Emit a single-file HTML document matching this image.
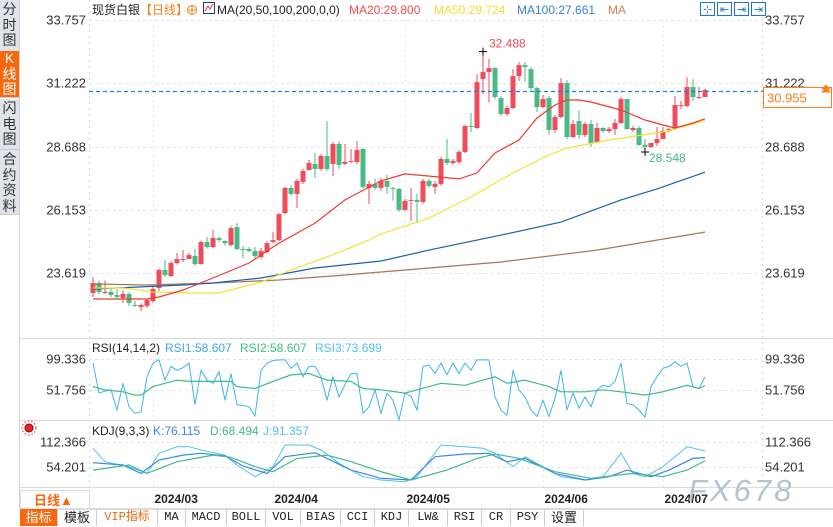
<!DOCTYPE html>
<html><head><meta charset="utf-8">
<style>
body{margin:0;width:833px;height:526px;overflow:hidden;background:#fff;font-family:"Liberation Sans","Noto Sans CJK SC",sans-serif;position:relative}
.side{position:absolute;left:0;width:19px;background:#e1e3ec;color:#333;font-size:14px;line-height:15.5px;text-align:center;border-bottom:1px solid #c8cad4}
.tab{position:absolute;top:509px;height:17px;font-size:12px;line-height:17px;text-align:center;border-right:1px solid #ccc;font-family:"Liberation Mono","Noto Sans CJK SC",monospace;color:#222}
</style></head><body>
<div class="side" style="top:0;height:49px;padding-top:2px">分<br>时<br>图</div>
<div class="side" style="top:51px;height:46px;background:#f7680f;color:#fff">K<br>线<br>图</div>
<div class="side" style="top:99px;height:48px;padding-top:2px">闪<br>电<br>图</div>
<div class="side" style="top:150px;height:62px;padding-top:2px">合<br>约<br>资<br>料</div>
<div style="position:absolute;left:19px;top:0;width:1px;height:509px;background:#d0d2da"></div>
<svg id="chart" width="833" height="526" style="position:absolute;left:0;top:0"></svg>
<div style="position:absolute;left:20px;top:509px;width:813px;height:17px;background:#fff;border-top:1px solid #ddd"></div>
<div class="tab" style="left:20px;width:37px;background:#f7680f;color:#fff;font-family:'Liberation Sans','Noto Sans CJK SC',sans-serif;font-size:13px">指标</div>
<div class="tab" style="left:58px;width:38px;font-family:'Liberation Sans','Noto Sans CJK SC',sans-serif;font-size:13px">模板</div>
<div class="tab" style="left:97px;width:60px;color:#f7680f">VIP指标</div>
<div class="tab" style="left:158px;width:27px">MA</div>
<div class="tab" style="left:186px;width:40px">MACD</div>
<div class="tab" style="left:227px;width:38px">BOLL</div>
<div class="tab" style="left:266px;width:34px">VOL</div>
<div class="tab" style="left:301px;width:39px">BIAS</div>
<div class="tab" style="left:341px;width:33px">CCI</div>
<div class="tab" style="left:375px;width:33px">KDJ</div>
<div class="tab" style="left:409px;width:38px">LW&amp;</div>
<div class="tab" style="left:448px;width:33px">RSI</div>
<div class="tab" style="left:482px;width:28px">CR</div>
<div class="tab" style="left:511px;width:33px">PSY</div>
<div class="tab" style="left:545px;width:38px;font-family:'Liberation Sans','Noto Sans CJK SC',sans-serif;font-size:13px">设置</div>
<script>
const opens=[22.82,23.22,22.82,22.86,22.74,22.62,22.78,22.34,22.26,22.30,22.50,23.02,23.74,23.50,24.02,24.14,24.18,24.30,23.98,24.86,24.66,25.02,24.90,24.74,25.46,24.58,24.58,24.50,24.26,24.46,24.86,24.94,26.02,27.03,26.79,27.27,27.75,27.99,27.79,28.31,27.99,28.79,27.99,28.07,28.07,28.59,27.03,27.19,27.03,27.31,27.03,26.99,26.15,26.53,26.55,26.47,27.31,27.07,27.19,28.19,28.03,28.07,28.47,29.51,29.43,31.39,31.67,31.83,30.63,29.99,30.23,31.51,31.95,31.79,31.03,30.27,30.63,29.35,29.87,31.23,29.07,29.71,29.15,29.59,28.87,29.43,29.31,29.39,29.63,30.59,29.35,29.43,28.75,28.67,28.83,28.99,29.31,29.39,30.31,30.31,31.07,30.63,30.67];
const closes=[23.22,22.86,22.86,22.74,22.66,22.78,22.42,22.32,22.34,22.54,22.98,23.74,23.54,24.02,24.18,24.18,24.34,23.98,24.86,24.66,25.02,24.94,24.82,25.42,24.58,24.54,24.50,24.30,24.50,24.82,24.94,25.98,27.03,26.79,27.31,27.71,28.03,27.79,28.31,27.79,28.79,27.95,28.07,28.11,28.55,27.07,27.19,27.03,27.31,27.07,27.01,26.15,26.51,26.55,26.47,27.31,27.11,27.19,28.19,28.03,28.11,28.47,29.51,29.47,31.27,31.67,31.83,30.67,29.99,30.23,31.51,31.95,31.87,31.03,30.27,30.59,29.35,29.87,31.23,29.07,29.59,29.15,29.59,28.83,29.43,29.31,29.39,29.63,30.59,29.39,29.43,28.75,28.67,28.83,28.99,29.31,29.39,30.35,30.35,31.07,30.67,30.67,30.955];
const highs=[23.45,23.32,23.32,22.98,22.98,22.92,22.86,22.50,22.40,22.60,23.06,23.80,24.14,24.10,24.42,24.54,24.42,24.58,24.92,25.06,25.34,25.08,24.94,25.50,25.62,24.70,24.66,24.66,24.62,24.90,25.26,26.02,27.07,27.15,27.39,27.79,28.15,28.43,28.39,29.71,28.87,28.91,28.79,28.59,28.91,28.63,27.31,27.39,27.43,27.55,27.07,27.03,26.59,27.03,26.79,27.39,27.39,27.31,28.27,28.99,28.19,28.55,29.55,30.03,31.59,32.488,32.20,31.87,30.71,30.31,31.79,32.07,32.07,31.87,31.07,30.75,30.71,29.95,31.43,31.35,29.75,30.13,29.67,29.75,29.63,29.47,29.47,29.79,30.67,30.59,29.51,29.51,28.99,28.75,29.47,29.47,29.43,30.71,30.51,31.47,31.39,31.07,31.01];
const lows=[22.66,22.78,22.78,22.66,22.58,22.42,22.30,22.26,22.10,22.22,22.42,22.90,23.46,23.46,23.96,24.06,24.26,23.90,23.96,24.60,24.62,24.86,24.72,24.70,24.54,24.22,24.46,24.20,24.18,24.40,24.82,24.90,25.98,26.71,26.23,27.19,27.71,27.43,27.71,27.71,27.50,27.79,27.95,28.03,27.99,26.99,26.39,26.95,26.91,26.79,26.51,26.07,26.11,25.71,25.63,26.39,27.03,26.79,27.11,27.95,27.95,27.99,28.43,29.27,29.39,30.79,30.45,30.59,29.91,29.91,30.19,31.31,31.27,30.95,30.07,30.23,29.15,29.23,29.83,28.99,29.03,28.99,29.07,28.67,28.83,29.23,29.23,29.15,29.59,29.35,29.27,28.71,28.548,28.63,28.71,29.27,29.27,29.35,30.19,30.27,30.51,30.59,30.79];
const ma20Idx=[0,9,11,15,20,26,31,37,42,48,52,61,64,67,71,74,77,79,81,83,88,92,95,97,100,102];
const ma20=[22.58,22.58,22.66,22.94,23.42,24.02,24.82,25.62,26.55,27.31,27.59,27.39,27.63,28.43,28.95,29.83,30.35,30.55,30.55,30.47,30.15,29.75,29.55,29.43,29.63,29.80];
const ma50Idx=[0,5,10,17,21,28,33,39,46,48,56,63,70,76,79,86,95,102];
const ma50=[23.02,23.02,22.86,22.82,22.82,23.26,23.74,24.26,24.94,25.18,25.82,26.67,27.63,28.35,28.63,28.95,29.27,29.72];
const ma100Idx=[0,15,20,28,37,48,56,68,78,88,94,102];
const ma100=[22.98,23.14,23.22,23.42,23.82,24.10,24.54,25.14,25.66,26.55,26.99,27.66];
const ma200Idx=[0,9,20,31,42,48,68,84,102];
const ma200=[23.18,23.14,23.22,23.34,23.54,23.66,24.06,24.54,25.26];
const rsi1=[93,47,50,52,21,62,26,16,18,72,93,98,67,88,82,86,93,29,82,67,62,80,36,77,29,28,26,12,82,93,97,98,98,85,93,72,88,88,72,36,72,41,60,77,77,16,26,52,16,47,36,6,47,42,21,88,90,77,93,75,93,77,93,82,98,98,98,41,21,13,82,52,41,21,11,36,11,39,82,21,47,24,41,26,52,59,57,65,93,31,29,21,10,57,72,85,88,95,88,93,57,54,72];
const rsi2Idx=[0,2,5,7,8,10,12,14,16,19,23,24,27,30,33,36,39,43,45,48,52,54,58,62,65,67,69,72,76,78,82,85,88,92,95,99,101,102];
const rsi2=[56.9,52,49,44,44,57,62,67,65,65,65,57,54,65,75,77,67,65,54,52,47,52,62,59,67,72,62,67,57,49,49,52,49,44,49,59,54,58.6];
const jIdx=[0,2,6,9,11,14,16,18,22,24,27,30,32,36,38,41,45,48,52,54,58,62,65,67,70,72,76,78,82,85,88,90,92,95,99,102];
const jVals=[97.6,66.6,55,39,86,101.5,101.5,93.7,82,58.8,31.7,55,105.4,105.4,93.7,62.7,31.7,24,20,31.7,105.4,101.5,97.6,86,55,78,47,31.7,24,31.7,86,39.4,31.7,55,101.5,91.4];
const kIdx=[0,5,8,11,15,18,22,25,29,32,37,39,43,48,53,57,62,66,69,72,77,82,86,89,93,96,100,102];
const kVals=[64.3,58.8,39.4,70.5,82,86,79.8,56.5,39.4,78.2,87.5,74.3,47,27.8,24,78.2,84.4,86,66.6,74.3,39.4,24,31.7,47,31.7,47,74.3,76.1];
const dIdx=[0,6,9,14,20,23,27,30,34,39,43,48,53,59,64,67,71,77,83,90,95,99,102];
const dVals=[47,58.8,39.4,66.6,82,76.7,55,43.3,74.3,82,66.6,43.3,24,47,74.3,84.4,74.3,43.3,27.8,39.4,31.7,47,68.5];
const priceTicks=["33.757","31.222","28.688","26.153","23.619"];
const rsiTicks=["99.336","51.756"];
const kdjTicks=["112.366","54.201"];
const monthLabels=["2024/03","2024/04","2024/05","2024/06","2024/07"];
const monthIdx=[10,30,52,75,95];

const NS="http://www.w3.org/2000/svg";
const svg=document.getElementById('chart');
function mk(tag,attrs,parent){const e=document.createElementNS(NS,tag);for(const k in attrs)e.setAttribute(k,attrs[k]);(parent||svg).appendChild(e);return e;}
const X0=93,DX=6,LEFT=89,RIGHT=762;
const xi=i=>X0+DX*i;
const yP=p=>20+(33.757-p)*24.96;
const yR=v=>359+(99.336-v)*31/47.58;
const yK=v=>442+(112.366-v)*25/58.165;
const F='"Liberation Sans","Noto Sans CJK SC",sans-serif';
function txt(x,y,s,fill,size,anchor,name){const t=mk('text',{x:x,y:y,fill:fill,'font-size':size||12,'font-family':F,'text-anchor':anchor||'start'});t.textContent=s;


return t;}

[338,420,487,508].forEach(y=>{const l=mk('line',{x1:20,x2:833,y1:y+0.5,y2:y+0.5,stroke:'#d8dae0'});

});
const ax1=mk('line',{x1:LEFT+.5,x2:LEFT+.5,y1:0,y2:508,stroke:'#d8dae0','stroke-dasharray':'2,4'});


const ax2=mk('line',{x1:RIGHT+.5,x2:RIGHT+.5,y1:0,y2:487,stroke:'#d8dae0','stroke-dasharray':'2,4'});



priceTicks.forEach(s=>{const y=Math.round(yP(parseFloat(s)))+.5;
const g=mk('line',{x1:LEFT,x2:RIGHT,y1:y,y2:y,stroke:'#e2e4e8','stroke-dasharray':'3,3'});


txt(86,y+4,s,'#333',13,'end','price-tick-left');txt(765,y+4,s,'#333',13,'start','price-tick-right');});
rsiTicks.forEach(s=>{const y=Math.round(yR(parseFloat(s)))+.5;
const g=mk('line',{x1:LEFT,x2:RIGHT,y1:y,y2:y,stroke:'#e2e4e8','stroke-dasharray':'3,3'});


txt(86,y+4,s,'#333',13,'end','rsi-tick-left');txt(765,y+4,s,'#333',13,'start','rsi-tick-right');});
kdjTicks.forEach(s=>{const y=Math.round(yK(parseFloat(s)))+.5;
const g=mk('line',{x1:LEFT,x2:RIGHT,y1:y,y2:y,stroke:'#e2e4e8','stroke-dasharray':'3,3'});


txt(86,y+4,s,'#333',13,'end','kdj-tick-left');txt(765,y+4,s,'#333',13,'start','kdj-tick-right');});
monthIdx.forEach((i,k)=>{const x=Math.round(xi(i))+.5;
const g=mk('line',{x1:x,x2:x,y1:20,y2:487,stroke:'#e6e8ec','stroke-dasharray':'2,3'});


const t=txt(x+1,503,monthLabels[k],'#222',12,'start','month-label');t.setAttribute('font-weight','bold');});

const clip=mk('clipPath',{id:'cp'});mk('rect',{x:LEFT,y:0,width:RIGHT-LEFT,height:487},clip);
const g=mk('g',{'clip-path':'url(#cp)'});



opens.forEach((o,i)=>{const c=closes[i];const up=c>=o;const col=up?'#ee4b5b':'#4cb886';const x=xi(i);
const w=mk('line',{x1:x,x2:x,y1:yP(highs[i]),y2:yP(lows[i]),stroke:col,'stroke-width':1},g);


const t=yP(Math.max(o,c)),b=yP(Math.min(o,c));
const r=mk('rect',{x:x-2.5,y:t,width:5,height:Math.max(1,b-t),fill:col},g);

});

function poly(idx,vals,yf,col,name,w){const pts=idx.map((i,k)=>xi(i)+','+yf(vals[k]).toFixed(1)).join(' ');
const p=mk('polyline',{points:pts,fill:'none',stroke:col,'stroke-width':w||1.2},g);

}
poly(ma200Idx,ma200,yP,'#a8735f','ma200-line');
poly(ma100Idx,ma100,yP,'#1d5fae','ma100-line');
poly(ma50Idx,ma50,yP,'#f3e232','ma50-line');
poly(ma20Idx,ma20,yP,'#ee3a30','ma20-line');
poly(rsi1.map((v,i)=>i),rsi1,yR,'#3fb5ea','rsi1-line',1);
poly(rsi2Idx,rsi2,yR,'#3dbd84','rsi2-line',1.2);
poly(jIdx,jVals,yK,'#52c0ef','kdj-j-line',1);
poly(kIdx,kVals,yK,'#3d86e6','kdj-k-line',1.2);
poly(dIdx,dVals,yK,'#3dbd84','kdj-d-line',1.2);

const cy=Math.round(yP(closes[closes.length-1]))+1.5;
const cl=mk('line',{x1:LEFT,x2:826,y1:cy,y2:cy,stroke:'#1c7fe6','stroke-width':1.3,'stroke-dasharray':'4,3'});


const box=mk('rect',{x:763.5,y:cy-4,width:68,height:20,fill:'#fff',stroke:'#f7801a'});


txt(767,cy+11,closes[closes.length-1].toFixed(3),'#f7801a',13,'start','current-price-value');
const ar=mk('path',{d:`M821 ${cy-2} L826 ${cy-7} L831 ${cy-2} Z M821 ${cy+1} L826 ${cy-4} L831 ${cy+1} Z`,fill:'#f7801a'});



const hi=65,lo=92;
txt(xi(hi)+6,yP(highs[hi])-4,highs[hi].toFixed(3),'#ee4b5b',12,'start','high-marker-label');
mk('path',{d:`M${xi(hi)-4} ${yP(highs[hi])} h8 M${xi(hi)} ${yP(highs[hi])-4} v8`,stroke:'#000'});
txt(xi(lo)+4,yP(lows[lo])+12,lows[lo].toFixed(3),'#4cb886',12,'start','low-marker-label');
mk('path',{d:`M${xi(lo)-4} ${yP(lows[lo])+2} h8 M${xi(lo)} ${yP(lows[lo])-2} v8`,stroke:'#000'});

let t=txt(92,14,'现货白银','#222',12,'start','symbol-title');
t=txt(140,14,'【日线】','#f7801a',12,'start','period-label');
const cir=mk('g',{});
mk('circle',{cx:192,cy:10,r:4.5,fill:'none',stroke:'#f7801a'},cir);mk('path',{d:'M187 10h10M192 5v10',stroke:'#f7801a'},cir);
const ic=mk('g',{});
mk('rect',{x:203.5,y:2.5,width:11,height:11,fill:'#fff',stroke:'#1a3d8c'},ic);mk('polyline',{points:'205,11 208,6 210,9 213,4',fill:'none',stroke:'#e33'},ic);
txt(217,14,'MA(20,50,100,200,0,0)','#222',12,'start','ma-legend-params');
txt(349,14,'MA20:29.800','#f34b4b',12,'start','ma20-legend');
txt(434,14,'MA50:29.724','#f3dd3a',12,'start','ma50-legend');
txt(517,14,'MA100:27.661','#3a7fd0',12,'start','ma100-legend');
txt(608,14,'MA','#c8825e',12,'start','ma200-legend');
['⊹','⇤','⇥','⇥'].forEach((s,k)=>{const x=700+k*17;const b=mk('rect',{x:x+.5,y:2.5,width:14,height:13,fill:'#fff',stroke:'#1a74d0'});


txt(x+7.5,13,s,'#1a74d0',11,'middle','toolbar-icon');});
txt(92,352,'RSI(14,14,2)','#222',12,'start','rsi-title');
txt(165,352,'RSI1:58.607','#3fa8ea',12,'start','rsi1-legend');
txt(240,352,'RSI2:58.607','#3dbd84',12,'start','rsi2-legend');
txt(315,352,'RSI3:73.699','#52c0ef',12,'start','rsi3-legend');
txt(92,435,'KDJ(9,3,3)','#222',12,'start','kdj-title');
txt(153,435,'K:76.115','#3d86e6',12,'start','kdj-k-legend');
txt(210,435,'D:68.494','#3dbd84',12,'start','kdj-d-legend');
txt(263,435,'J:91.357','#52c0ef',12,'start','kdj-j-legend');
const sun=mk('g',{});
mk('circle',{cx:29,cy:428,r:4,fill:'#e22',stroke:'#800'},sun);mk('circle',{cx:29,cy:428,r:7,fill:'none',stroke:'#e22','stroke-dasharray':'1.5,2'},sun);
const pb=mk('rect',{x:20.5,y:490.5,width:69,height:18,fill:'#fff',stroke:'#ddd'});


t=txt(34,505,'日线▲','#f7680f',13,'start','period-selector-label');t.setAttribute('font-weight','bold');
t=txt(688,501,'FX678','#b7c1d2',31,'start','watermark');t.setAttribute('letter-spacing','3');t.setAttribute('font-style','italic');
</script>
</body></html>
